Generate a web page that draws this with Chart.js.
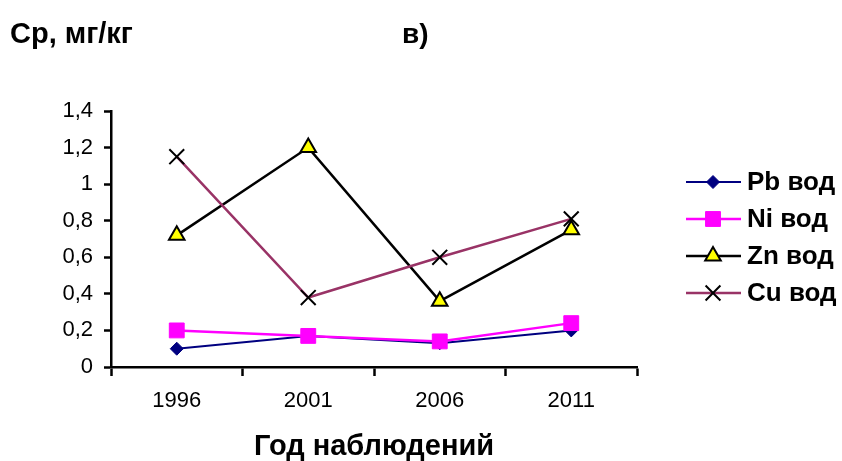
<!DOCTYPE html>
<html>
<head>
<meta charset="utf-8">
<script src="https://cdnjs.cloudflare.com/ajax/libs/Chart.js/4.4.0/chart.umd.min.js"></script>
<style>
  html, body { margin: 0; padding: 0; background: #fff; }
  canvas { display: block; }
</style>
</head>
<body>
<canvas id="chart" width="842" height="461"></canvas>
<script>
const years = ["1996", "2001", "2006", "2011"]
const pbValues = [0.10, 0.17, 0.13, 0.20]
const niValues = [0.20, 0.17, 0.14, 0.24]
const znValues = [0.72, 1.20, 0.36, 0.75]
const cuValues = [1.15, 0.38, 0.60, 0.81]
const seriesNames = ["Pb вод", "Ni вод", "Zn вод", "Cu вод"]

const FONT = "'Liberation Sans', Arial, sans-serif"

function fmtTick(v) {
    return String(Math.round(v * 10) / 10).replace(".", ",")
}

// legend drawn by hand: line + marker, like the Excel legend
const sideLegend = {
    id: "sideLegend",
    afterDraw(chart) {
        const ctx = chart.ctx
        const sets = chart.data.datasets
        ctx.save()
        sets.forEach((ds, i) => {
            const y = 182 + i * 37
            ctx.strokeStyle = ds.borderColor
            ctx.lineWidth = ds.borderWidth
            ctx.beginPath()
            ctx.moveTo(686, y)
            ctx.lineTo(741, y)
            ctx.stroke()
            ctx.fillStyle = ds.pointBackgroundColor
            ctx.strokeStyle = ds.pointBorderColor
            ctx.lineWidth = ds.pointBorderWidth
            Chart.helpers.drawPoint(ctx, {
                pointStyle: ds.pointStyle,
                radius: ds.pointRadius,
                rotation: 0,
                borderWidth: ds.pointBorderWidth,
            }, 713, y)
            ctx.fillStyle = "#000"
            ctx.font = "bold 26px " + FONT
            ctx.textBaseline = "middle"
            ctx.textAlign = "left"
            ctx.fillText(ds.label, 747, y + 1)
        })
        ctx.textBaseline = "alphabetic"
        ctx.font = "bold 29px " + FONT
        ctx.fillText("Ср, мг/кг", 10, 43)
        ctx.font = "bold 28px " + FONT
        ctx.fillText("в)", 402, 43)
        ctx.restore()
    },
}

new Chart(document.getElementById("chart"), {
    type: "line",
    data: {
        labels: years,
        datasets: [
            {
                label: seriesNames[0],
                data: pbValues,
                borderColor: "#000080",
                borderWidth: 2,
                pointStyle: "rectRot",
                pointRadius: 6.5,
                pointBackgroundColor: "#000080",
                pointBorderColor: "#000080",
                pointBorderWidth: 1,
                order: 4,
            },
            {
                label: seriesNames[1],
                data: niValues,
                borderColor: "#FF00FF",
                borderWidth: 2.5,
                pointStyle: "rect",
                pointRadius: 10.5,
                pointBackgroundColor: "#FF00FF",
                pointBorderColor: "#FF00FF",
                pointBorderWidth: 1,
                order: 3,
            },
            {
                label: seriesNames[2],
                data: znValues,
                borderColor: "#000000",
                borderWidth: 2.5,
                pointStyle: "triangle",
                pointRadius: 9,
                pointBackgroundColor: "#FFFF00",
                pointBorderColor: "#000000",
                pointBorderWidth: 2,
                order: 2,
            },
            {
                label: seriesNames[3],
                data: cuValues,
                borderColor: "#993366",
                borderWidth: 2.5,
                pointStyle: "crossRot",
                pointRadius: 10.5,
                pointBackgroundColor: "#000000",
                pointBorderColor: "#000000",
                pointBorderWidth: 2,
                order: 1,
            },
        ],
    },
    options: {
        responsive: false,
        animation: false,
        events: [],
        layout: { padding: { left: 0, top: 111, right: 205, bottom: 0 } },
        elements: { line: { tension: 0 } },
        scales: {
            x: {
                offset: true,
                afterFit: (s) => { s.height = 94 },
                grid: {
                    offset: true,
                    drawOnChartArea: false,
                    tickLength: 9,
                    tickWidth: 2.5,
                    tickColor: "#000",
                },
                border: { color: "#000", width: 2.5 },
                ticks: {
                    color: "#000",
                    padding: 12,
                    maxRotation: 0,
                    font: { family: FONT, size: 22 },
                },
                title: {
                    display: true,
                    text: "Год наблюдений",
                    color: "#000",
                    padding: 0,
                    font: { family: FONT, size: 29, weight: "bold", lineHeight: 1 },
                },
            },
            y: {
                min: 0,
                max: 1.4,
                afterFit: (s) => { s.width = 111 },
                grid: {
                    drawOnChartArea: false,
                    tickLength: 7,
                    tickWidth: 2.5,
                    tickColor: "#000",
                },
                border: { color: "#000", width: 2.5 },
                ticks: {
                    stepSize: 0.2,
                    color: "#000",
                    padding: 11,
                    callback: (v) => fmtTick(v),
                    font: { family: FONT, size: 22 },
                },
            },
        },
        plugins: {
            legend: { display: false },
            tooltip: { enabled: false },
        },
    },
    plugins: [sideLegend],
})
</script>
</body>
</html>
